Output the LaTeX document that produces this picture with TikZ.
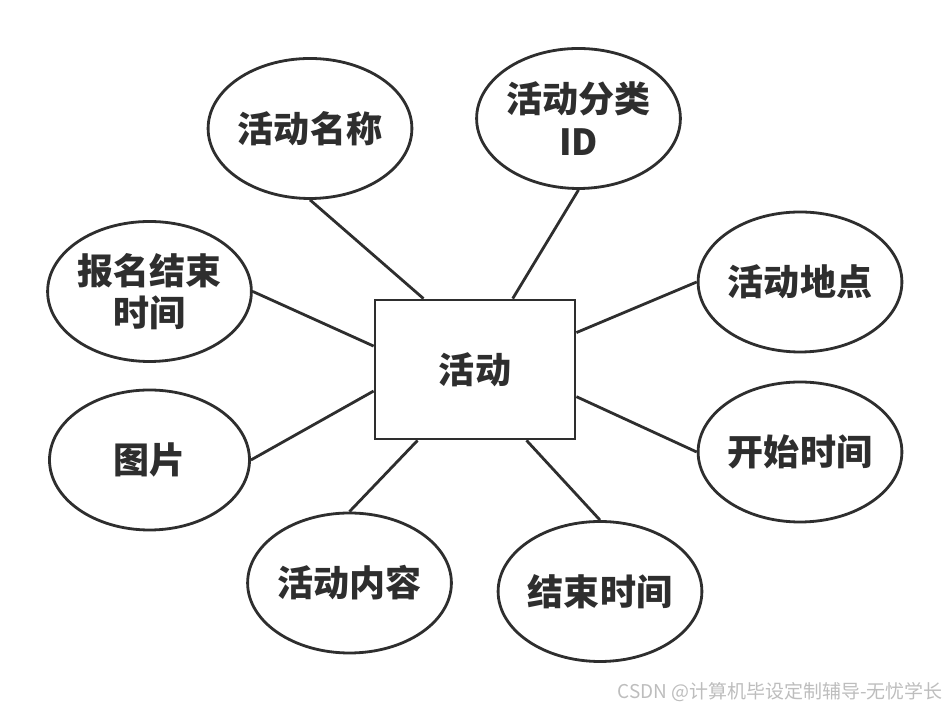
\documentclass[tikz,border=0pt]{standalone}
\usepackage{fontspec}
\newfontfamily\cjk{Noto Sans CJK SC}
\usetikzlibrary{shapes.geometric}
\usepackage{xcolor}
\definecolor{ink}{HTML}{2E2E2E}
\definecolor{mark}{HTML}{BDBDBD}

\begin{document}
\begin{tikzpicture}[
      attr/.style={ellipse, draw=ink, line width=1.6pt, inner sep=0pt,
                   minimum width=4.0cm, minimum height=2.8cm,
                   font=\cjk\bfseries\fontsize{20.5}{24}\selectfont,
                   text=ink, align=center},
      ent/.style={rectangle, draw=ink, line width=1.6pt, inner sep=0pt,
                  minimum width=4.0cm, minimum height=2.78cm,
                  font=\cjk\bfseries\fontsize{20.5}{24}\selectfont, text=ink},
      link/.style={draw=ink, line width=1.6pt}]
    \useasboundingbox (0,0) rectangle (19,14.24);
    % entity
    \node[ent] (act) at (9.50,6.85) {活动};
    % attributes
    \node[attr] (name) at (6.20,11.67) {活动名称};
    \node[attr] (cat) at (11.57,11.87) {活动分类\\ID};
    \node[attr] (place) at (16.00,8.60) {活动地点};
    \node[attr] (start) at (16.00,5.20) {开始时间};
    \node[attr] (finish) at (12.00,2.41) {结束时间};
    \node[attr] (content) at (6.99,2.58) {活动内容};
    \node[attr] (pic) at (2.99,5.04) {图片};
    \node[attr] (deadline) at (2.99,8.41) {报名结束\\时间};
    % links
    \draw[link] (name.south) -- (act.126);
    \draw[link] (cat.south) -- (act.62.6);
    \draw[link] (place.west) -- (act.20.9);
    \draw[link] (start.west) -- (act.-15.2);
    \draw[link] (finish.north) -- (act.-54);
    \draw[link] (content.north) -- (act.231.5);
    \draw[link] (pic.east) -- (act.192);
    \draw[link] (deadline.east) -- (act.167.4);
    % watermark
    \node[anchor=east, text=mark, font=\cjk\fontsize{10.8}{12}\selectfont,
          inner sep=0pt] (wm) at (18.86,0.40) {CSDN @计算机毕设定制辅导-无忧学长};
  \end{tikzpicture}
\end{document}
